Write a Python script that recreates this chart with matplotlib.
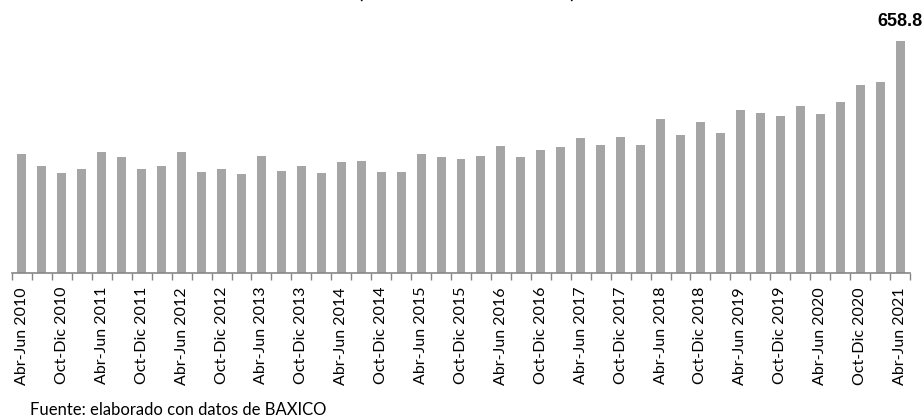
import numpy as np
import matplotlib.pyplot as plt

# valores trimestrales (Abr-Jun 2010 ... Abr-Jun 2021)
trimestres = ['Ene-Mar', 'Abr-Jun', 'Jul-Sep', 'Oct-Dic']
etiquetas = []
for anio in range(2010, 2022):
    for t in trimestres:
        etiquetas.append(f'{t} {anio}')
etiquetas = etiquetas[1:46]

valores = [337, 302, 283, 294, 343, 330, 295, 304, 344, 286, 295, 280,
           332, 288, 304, 284, 314, 318, 286, 285, 338, 330, 324, 333,
           360, 330, 348, 358, 384, 362, 387, 364, 437, 392, 428, 398,
           462, 454, 445, 473, 452, 486, 534, 542, 658.8]

fuente_txt = 'Fuente: elaborado con datos de BAXICO'
titulo = '(Millones de dólares)'

fig = plt.figure(figsize=(9.24, 4.18), dpi=100)
ax = fig.add_axes([12 / 924, 145 / 418, 898 / 924, 273 / 418])

x = np.arange(len(valores))
ax.bar(x, valores, width=0.45, color='#a5a5a5')

ax.set_xlim(-0.5, len(valores) - 0.5)
ax.set_ylim(0, 774)

# etiquetas cada dos trimestres
ax.set_xticks(x[::2])
ax.set_xticklabels(etiquetas[::2], rotation=90, fontsize=11.5, family='Lato')
ax.tick_params(axis='x', which='major', length=0, pad=10)
ax.set_xticks(np.arange(-0.5, len(valores), 1), minor=True)
ax.tick_params(axis='x', which='minor', length=5, color='#868686', width=1)

for s in ['top', 'right', 'left']:
    ax.spines[s].set_visible(False)
ax.spines['bottom'].set_color('#868686')
ax.spines['bottom'].set_linewidth(1.2)
ax.set_yticks([])

ax.annotate(f'{valores[-1]:.1f}', (x[-1], valores[-1]), xytext=(0, 8),
            textcoords='offset points', ha='center', va='bottom',
            fontsize=13, fontweight='bold', family='Liberation Sans')

fig.text(30 / 924, 1 - 410 / 418, fuente_txt, fontsize=12, family='Lato',
         va='center', ha='left')
# titulo recortado arriba, como en el original
fig.text(0.505, 1.006, titulo, fontsize=17.5, family='Lato',
         va='baseline', ha='center')

fig.savefig('out.png', dpi=100)
